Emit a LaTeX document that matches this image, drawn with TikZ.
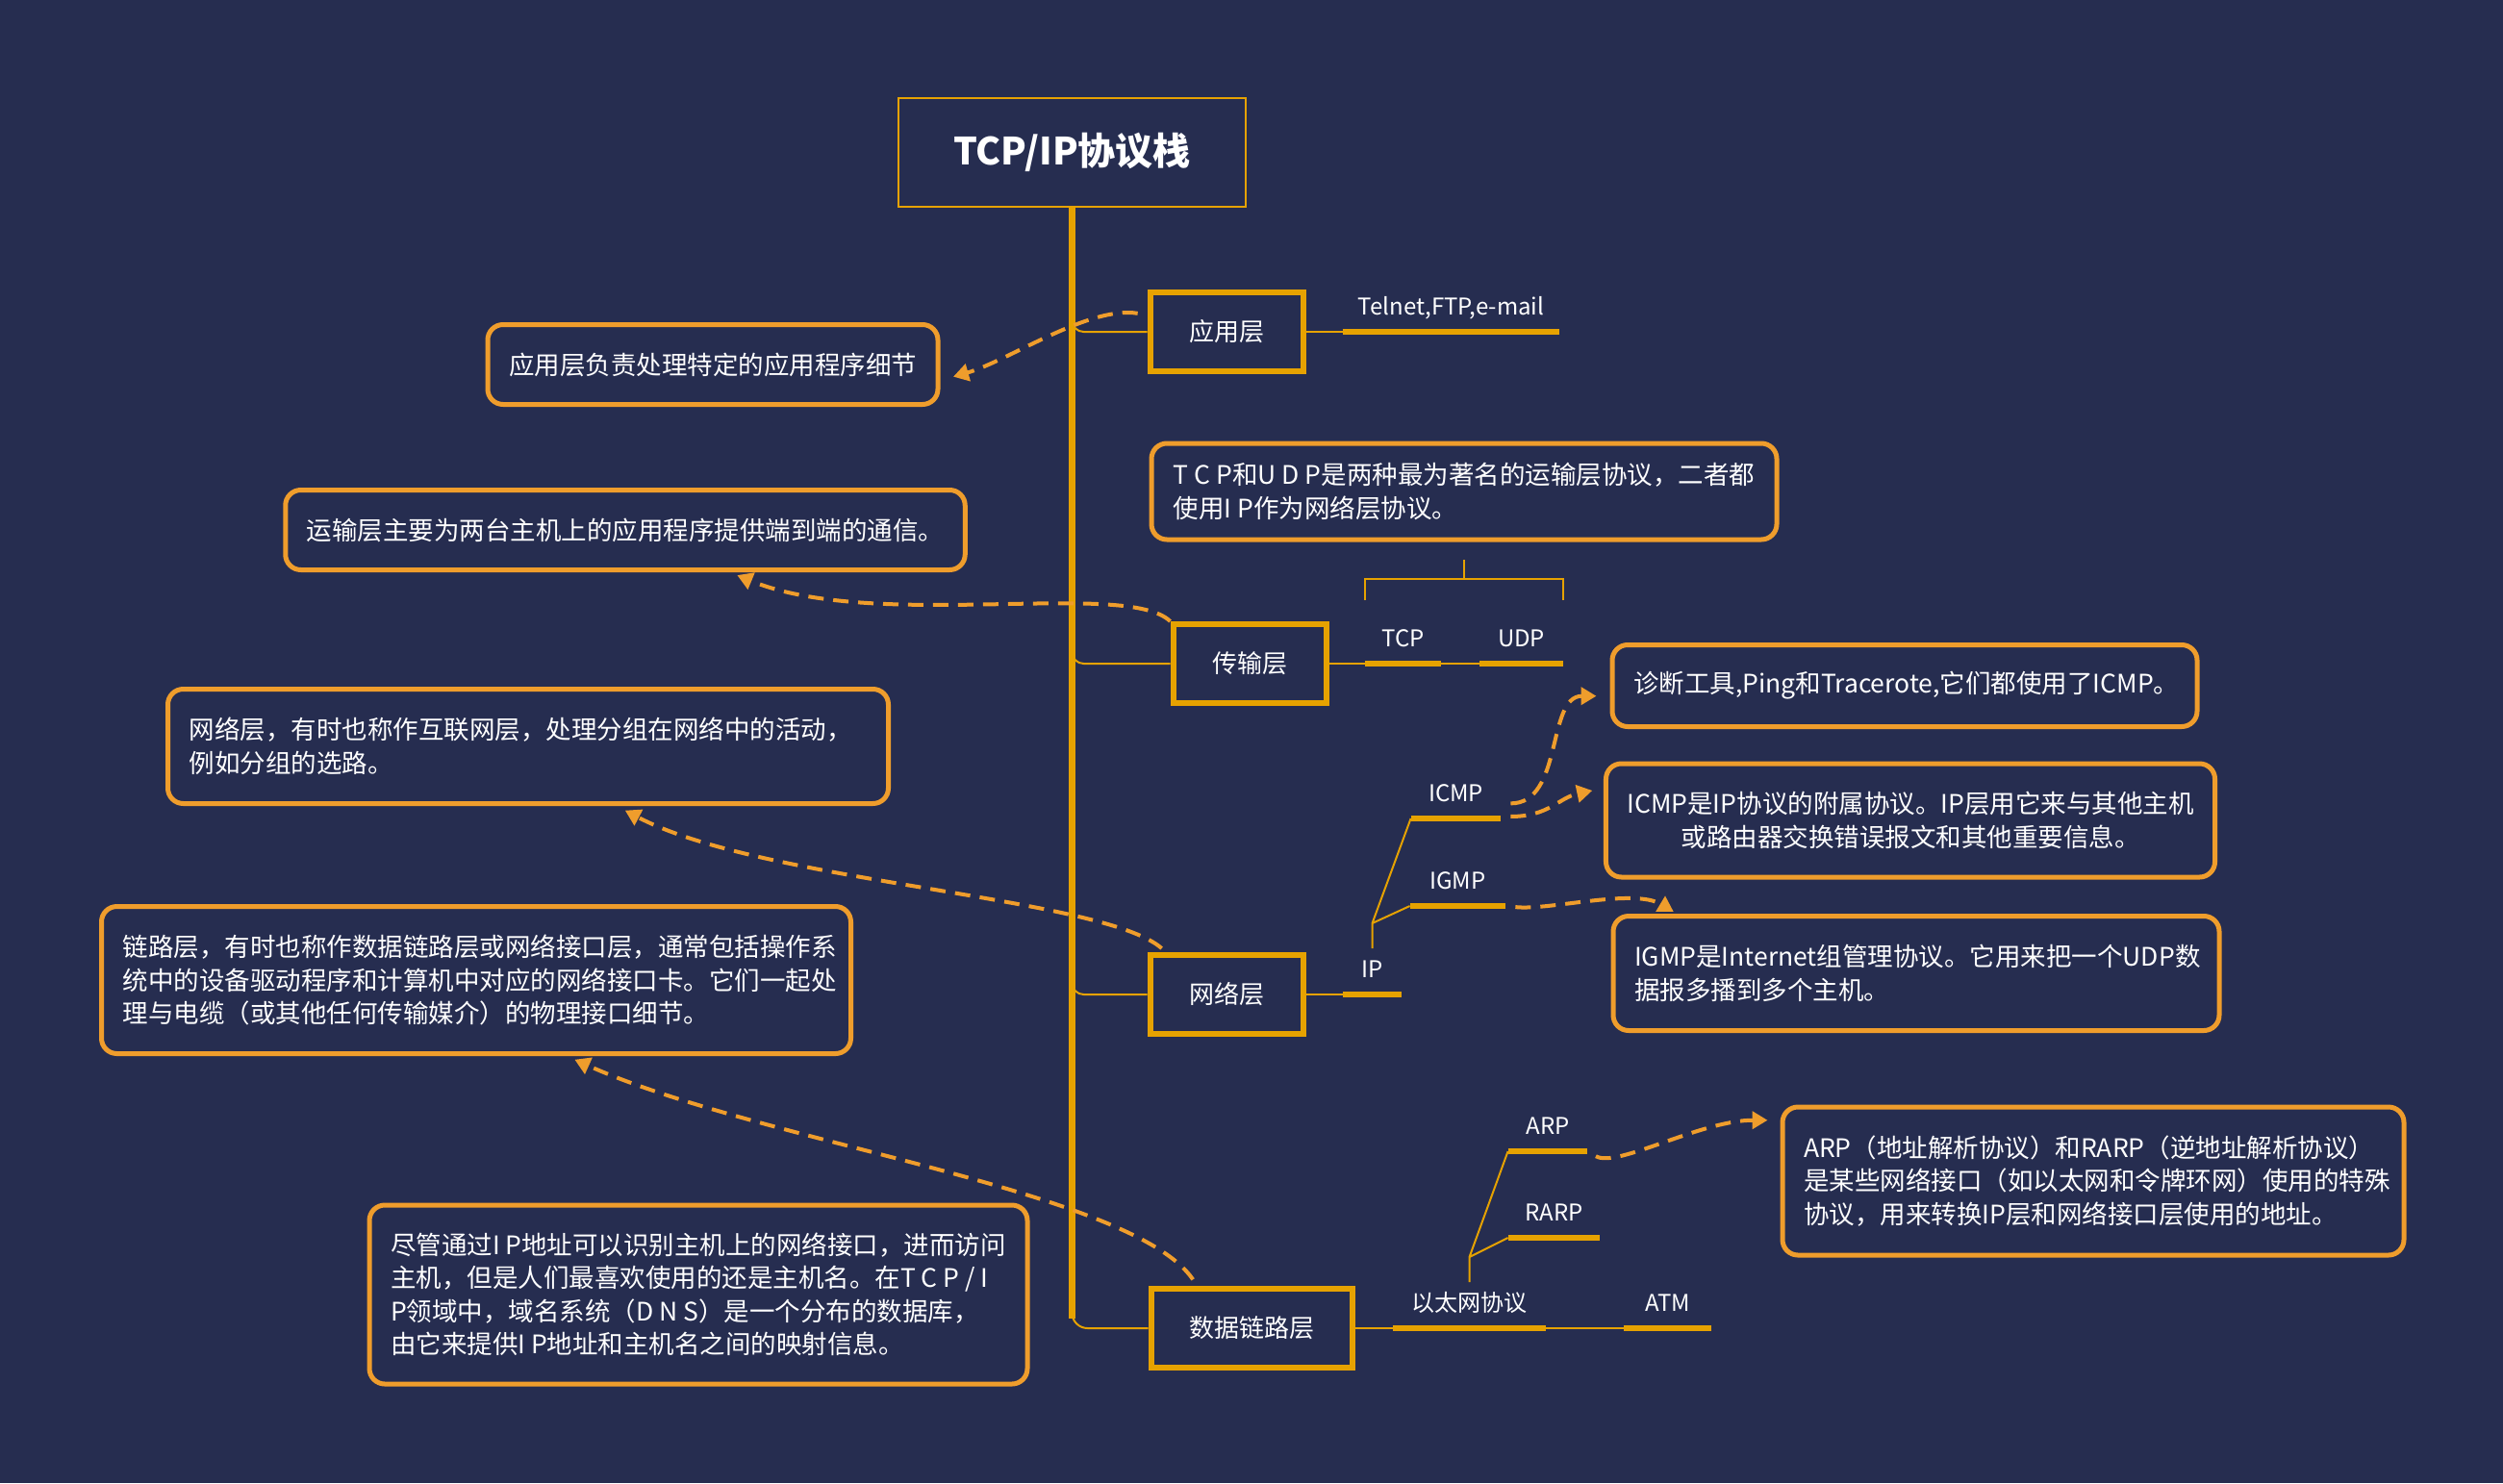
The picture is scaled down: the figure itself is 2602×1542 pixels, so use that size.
\documentclass[tikz,border=0pt]{standalone}
\usepackage{fontspec}
\setmainfont{Noto Sans CJK SC}
\usetikzlibrary{positioning, arrows.meta}
\definecolor{bgcol}{HTML}{262D50}
\definecolor{gold}{HTML}{E6A200}
\definecolor{notecol}{HTML}{EF9D2C}
\tikzset{
  layerbox/.style={draw=gold, line width=3pt, fill=bgcol, text=white, font=\fontsize{13pt}{15pt}\selectfont, minimum width=79.5pt, minimum height=41pt},
  notebox/.style={draw=notecol, line width=2.5pt, rounded corners=8pt, text=white, inner xsep=11pt, font=\fontsize{13.25pt}{17.25pt}\selectfont},
  leaf/.style={text=white, font=\fontsize{12pt}{14pt}\selectfont, anchor=south, inner xsep=0pt, inner ysep=6pt, text height=9pt, text depth=2.5pt},
  bar/.style={gold, line width=3pt},
  branch/.style={gold, line width=1pt},
  trunk/.style={gold, line width=3.2pt},
  dasharrow/.style={notecol, line width=2pt, dash pattern=on 8pt off 5pt, -{Triangle[length=8pt,width=9pt]}},
}
\begin{document}
\begin{tikzpicture}[x=0.5pt, y=-0.5pt]
    \fill[bgcol] (0,0) rectangle (2602,1542); %背景
    \node[draw=gold, line width=0.8pt, minimum width=180.7pt, minimum height=56.7pt, text=white, font=\bfseries\fontsize{19.5pt}{22pt}\selectfont] (title) at (1114.5,158.5) {TCP/IP协议栈};
    % 四层
    \node[layerbox] (app) at (1275,345) {应用层};
    \node[layerbox] (tl) at (1299,690) {传输层};
    \node[layerbox] (net) at (1275,1034) {网络层};
    \node[layerbox, minimum width=104.5pt] (dl) at (1301,1381) {数据链路层};
    \draw[trunk, shorten >=5pt] (title.south) -- (title.south |- dl.west); %主干
    \draw[branch, rounded corners=6pt] (title.south |- app.north) |- (app.west);
    \draw[branch, rounded corners=6pt] (title.south |- tl.north) |- (tl.west);
    \draw[branch, rounded corners=6pt] (title.south |- net.north) |- (net.west);
    \draw[branch, rounded corners=8pt] (title.south |- dl.north) |- (dl.west);
    % 各层协议
    \node[leaf, minimum width=112.5pt] (tel) at (1508.5,345) {Telnet,FTP,e-mail};
    \node[leaf, minimum width=39.5pt] (tcp) at (1458.5,690) {TCP};
    \node[leaf, minimum width=43.5pt] (udp) at (1581.5,690) {UDP};
    \node[leaf, minimum width=30.5pt] (ip) at (1426.5,1034) {IP};
    \node[leaf, minimum width=46.5pt] (icmp) at (1513.5,851) {ICMP};
    \node[leaf, minimum width=49.5pt] (igmp) at (1515.5,942) {IGMP};
    \node[leaf, minimum width=79.5pt] (eth) at (1527.5,1381) {以太网协议};
    \node[leaf, minimum width=45.5pt] (atm) at (1733.5,1381) {ATM};
    \node[leaf, minimum width=41pt] (arp) at (1609,1197) {ARP};
    \node[leaf, minimum width=47.5pt] (rarp) at (1615.5,1287) {RARP};
    \foreach \n in {tel,tcp,udp,ip,icmp,igmp,eth,atm,arp,rarp}
        \draw[bar] (\n.south west) -- (\n.south east); %下划粗线
    \draw[branch] (app.east) -- (tel.south west);
    \draw[branch] (tl.east) -- (tcp.south west);
    \draw[branch] (tcp.south east) -- (udp.south west);
    \draw[branch] (net.east) -- (ip.south west);
    \draw[branch] (dl.east) -- (eth.south west);
    \draw[branch] (eth.south east) -- (atm.south west);
    \coordinate (ipfork) at (1426.5,960);
    \draw[branch] (ip.north) -- (ipfork) -- (icmp.south west) (ipfork) -- (igmp.south west);
    \coordinate (ethfork) at (1527.5,1307);
    \draw[branch] (eth.north) -- (ethfork) -- (arp.south west) (ethfork) -- (rarp.south west);
    \draw[branch] (1419,624) |- (1625,602) -- (1625,624); %括号
    \draw[branch] (1522,602) -- (1522,582);
    % 说明框
    \node[notebox, minimum width=232.5pt, minimum height=41.5pt, align=center] (appnote) at (741,379) {应用层负责处理特定的应用程序细节};
    \node[notebox, minimum width=351pt, minimum height=41.5pt, align=left] (tlnote) at (650,551) {运输层主要为两台主机上的应用程序提供端到端的通信。};
    \node[notebox, text width=352.5pt, minimum height=59.5pt, align=left] (netnote) at (549,776) {网络层，有时也称作互联网层，处理分组在网络中的活动，\\例如分组的选路。};
    \node[notebox, text width=367.5pt, minimum height=76.5pt, align=left] (llnote) at (495,1019) {链路层，有时也称作数据链路层或网络接口层，通常包括操作系\\统中的设备驱动程序和计算机中对应的网络接口卡。它们一起处\\理与电缆（或其他任何传输媒介）的物理接口细节。};
    \node[notebox, minimum width=338.5pt, minimum height=93pt, align=left] (dnsnote) at (726,1346) {尽管通过I P地址可以识别主机上的网络接口，进而访问\\主机，但是人们最喜欢使用的还是主机名。在T C P / I\\P领域中，域名系统（D N S）是一个分布的数据库，\\由它来提供I P地址和主机名之间的映射信息。};
    \node[notebox, minimum width=325pt, minimum height=50pt, align=left] (tcpnote) at (1522,511) {T C P和U D P是两种最为著名的运输层协议，二者都\\使用I P作为网络层协议。};
    \node[notebox, text width=282pt, minimum height=42.5pt, align=left] (pingnote) at (1980,713) {诊断工具,Ping和Tracerote,它们都使用了ICMP。};
    \node[notebox, minimum width=313.5pt, minimum height=59pt, align=center] (icmpnote) at (1986,853) {ICMP是IP协议的附属协议。IP层用它来与其他主机\\或路由器交换错误报文和其他重要信息。};
    \node[notebox, text width=293pt, minimum height=59.5pt, align=left] (igmpnote) at (1992,1012) {IGMP是Internet组管理协议。它用来把一个UDP数\\据报多播到多个主机。};
    \node[notebox, text width=301pt, minimum height=77pt, align=left] (arpnote) at (2176,1228) {ARP（地址解析协议）和RARP（逆地址解析协议）\\是某些网络接口（如以太网和令牌环网）使用的特殊\\协议，用来转换IP层和网络接口层使用的地址。};
    % 虚线箭头
    \draw[dasharrow, shorten <=5pt, shorten >=7pt] (app.168) .. controls +(-60,-10) and +(70,-20) .. (appnote.-4);
    \draw[dasharrow, shorten >=4pt] (tl.north west) .. controls +(-45,-44) and +(150,62) .. (tlnote.-22);
    \draw[dasharrow, shorten <=3pt, shorten >=5pt] (net.145) .. controls +(-66,-58) and +(152,80) .. (netnote.-34);
    \draw[dasharrow, shorten <=4pt, shorten >=4.5pt] (dl.142) .. controls +(-68,-100) and +(200,90) .. (llnote.-40);
    \draw[dasharrow, shorten <=5pt, shorten >=7pt] (icmp.-10) .. controls +(65,0) and +(-66,0) .. (pingnote.182);
    \draw[dasharrow, shorten <=5pt, shorten >=6pt] (icmp.-25) .. controls +(50,0) and +(-47,10) .. (icmpnote.174);
    \draw[dasharrow, shorten <=5pt, shorten >=2pt] (igmp.south east) .. controls +(45,5) and +(-45,-27) .. (igmpnote.166);
    \draw[dasharrow, shorten <=5pt, shorten >=6.5pt] (arp.south east) .. controls +(30,18) and +(-83,0) .. (arpnote.169);
\end{tikzpicture}
\end{document}
